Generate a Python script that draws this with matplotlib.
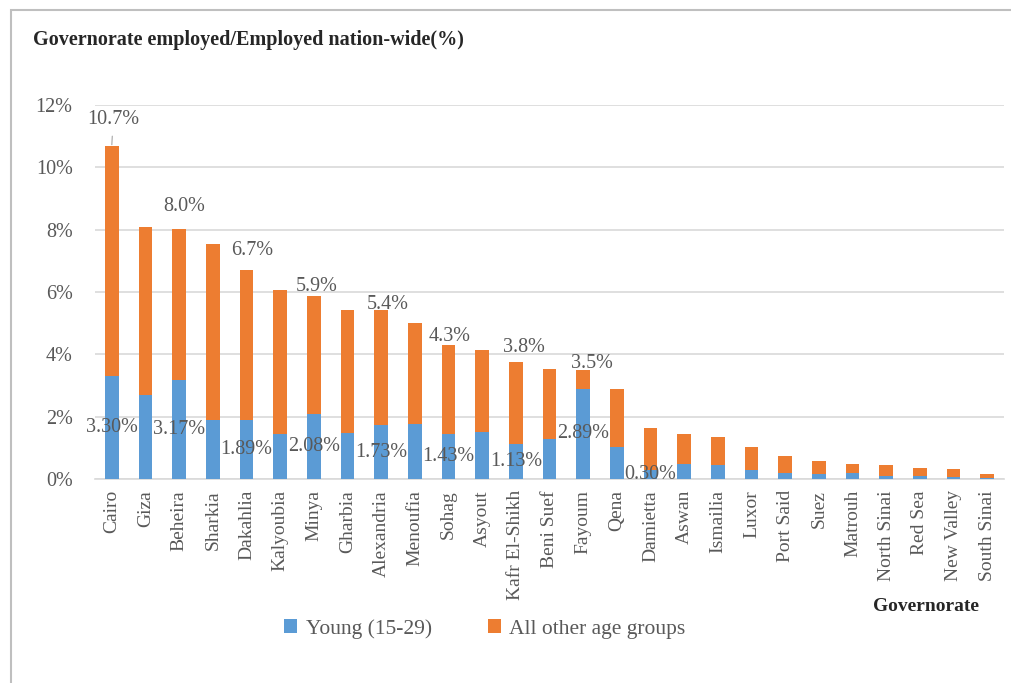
import numpy as np
import matplotlib
matplotlib.use('Agg')
import matplotlib.pyplot as plt
from matplotlib.patches import Rectangle
from matplotlib.ticker import FuncFormatter

# --- data (percent of employed nation-wide) ---
governorates = ['Cairo', 'Giza', 'Beheira', 'Sharkia', 'Dakahlia', 'Kalyoubia', 'Minya',
                'Gharbia', 'Alexandria', 'Menoufia', 'Sohag', 'Asyout', 'Kafr El-Shikh',
                'Beni Suef', 'Fayoum', 'Qena', 'Damietta', 'Aswan', 'Ismailia', 'Luxor',
                'Port Said', 'Suez', 'Matrouh', 'North Sinai', 'Red Sea', 'New Valley',
                'South Sinai']
young = [3.30, 2.71, 3.17, 1.90, 1.89, 1.43, 2.08, 1.46, 1.73, 1.75, 1.43, 1.50, 1.13,
         1.27, 2.89, 1.02, 0.30, 0.48, 0.45, 0.29, 0.18, 0.15, 0.18, 0.10, 0.10, 0.05, 0.02]
other = [7.38, 5.38, 4.85, 5.65, 4.81, 4.63, 3.78, 3.96, 3.69, 3.26, 2.86, 2.63, 2.63,
         2.26, 0.60, 1.86, 1.32, 0.95, 0.91, 0.73, 0.57, 0.44, 0.30, 0.35, 0.24, 0.27, 0.13]
yticks = [0, 2, 4, 6, 8, 10, 12]

# which bars carry labels (as in the original)
total_label_idx = [0, 2, 4, 6, 8, 10, 12, 14]
young_label_idx = [0, 2, 4, 6, 8, 10, 12, 14, 16]
# label offsets in points (dx, dy) above the bar top
total_label_off = [(1, 19), (4, 16), (4, 14), (2, 7), (5, 4), (1, 6), (6, 10), (6, 5)]

BLUE = '#5B9BD5'
ORANGE = '#ED7D31'
GRAY_TXT = '#595959'

plt.rcParams['font.family'] = ['Liberation Serif', 'DejaVu Serif']

fig = plt.figure(figsize=(10.12, 6.83), dpi=100)
ax = fig.add_axes([0.0938, 0.2987, 0.8983, 0.5476])

x = np.arange(len(governorates))
young = np.array(young)
other = np.array(other)
total = young + other

ax.bar(x, young, width=0.41, color=BLUE, label='Young (15-29)', zorder=3)
ax.bar(x, other, width=0.41, bottom=young, color=ORANGE, label='All other age groups', zorder=3)

ax.set_xlim(-0.5, len(governorates) - 0.5)
ax.set_ylim(0, 12)
ax.set_yticks(yticks)
ax.yaxis.set_major_formatter(FuncFormatter(lambda v, p: f'{v:.0f}%'))
ax.set_xticks(x)
ax.set_xticklabels(governorates, rotation=90, fontsize=14, color=GRAY_TXT)
ax.tick_params(axis='y', length=0, pad=16, labelsize=14.5, labelcolor=GRAY_TXT)
ax.tick_params(axis='x', length=0, pad=8)
ax.grid(axis='y', color='#D9D9D9', linewidth=1.2, zorder=0)
for s in ['top', 'right', 'left']:
    ax.spines[s].set_visible(False)
ax.spines['bottom'].set_color('#D9D9D9')
ax.spines['bottom'].set_linewidth(1.2)

# total labels
for k, i in enumerate(total_label_idx):
    dx, dy = total_label_off[k]
    if i == 0:
        ax.annotate(f'{total[i]:.1f}%', xy=(x[i], total[i]), xytext=(dx, dy),
                    textcoords='offset points', ha='center', va='center',
                    fontsize=14.5, color=GRAY_TXT,
                    arrowprops=dict(arrowstyle='-', color='#A6A6A6', lw=0.8,
                                    shrinkA=3, shrinkB=1))
    else:
        ax.annotate(f'{total[i]:.1f}%', xy=(x[i], total[i]), xytext=(dx, dy),
                    textcoords='offset points', ha='center', va='center',
                    fontsize=14.5, color=GRAY_TXT)

# young labels, centred in the blue segment
for i in young_label_idx:
    ax.text(x[i], young[i] / 2, f'{young[i]:.2f}%', ha='center', va='center',
            fontsize=14.5, color=GRAY_TXT, zorder=4)

fig.text(0.033, 0.941, 'Governorate employed/Employed nation-wide(%)', fontsize=14.5,
         fontweight='bold', color='#262626', ha='left', va='center')
fig.text(0.915, 0.112, 'Governorate', fontsize=14, fontweight='bold', color='#262626',
         ha='center', va='center')

ax.legend(loc='center', bbox_to_anchor=(0.479, 0.079),
          bbox_transform=fig.transFigure, ncol=2, frameon=False, fontsize=15.5,
          handlelength=0.6, handleheight=0.6, columnspacing=2.6, handletextpad=0.4,
          labelcolor=GRAY_TXT)

# chart frame
fig.add_artist(Rectangle((11 / 1012, -0.2), 1.2, 1.2 - 10 / 683, transform=fig.transFigure,
                         fill=False, edgecolor='#BFBFBF', linewidth=1.5))

fig.savefig('out.png', dpi=100)
